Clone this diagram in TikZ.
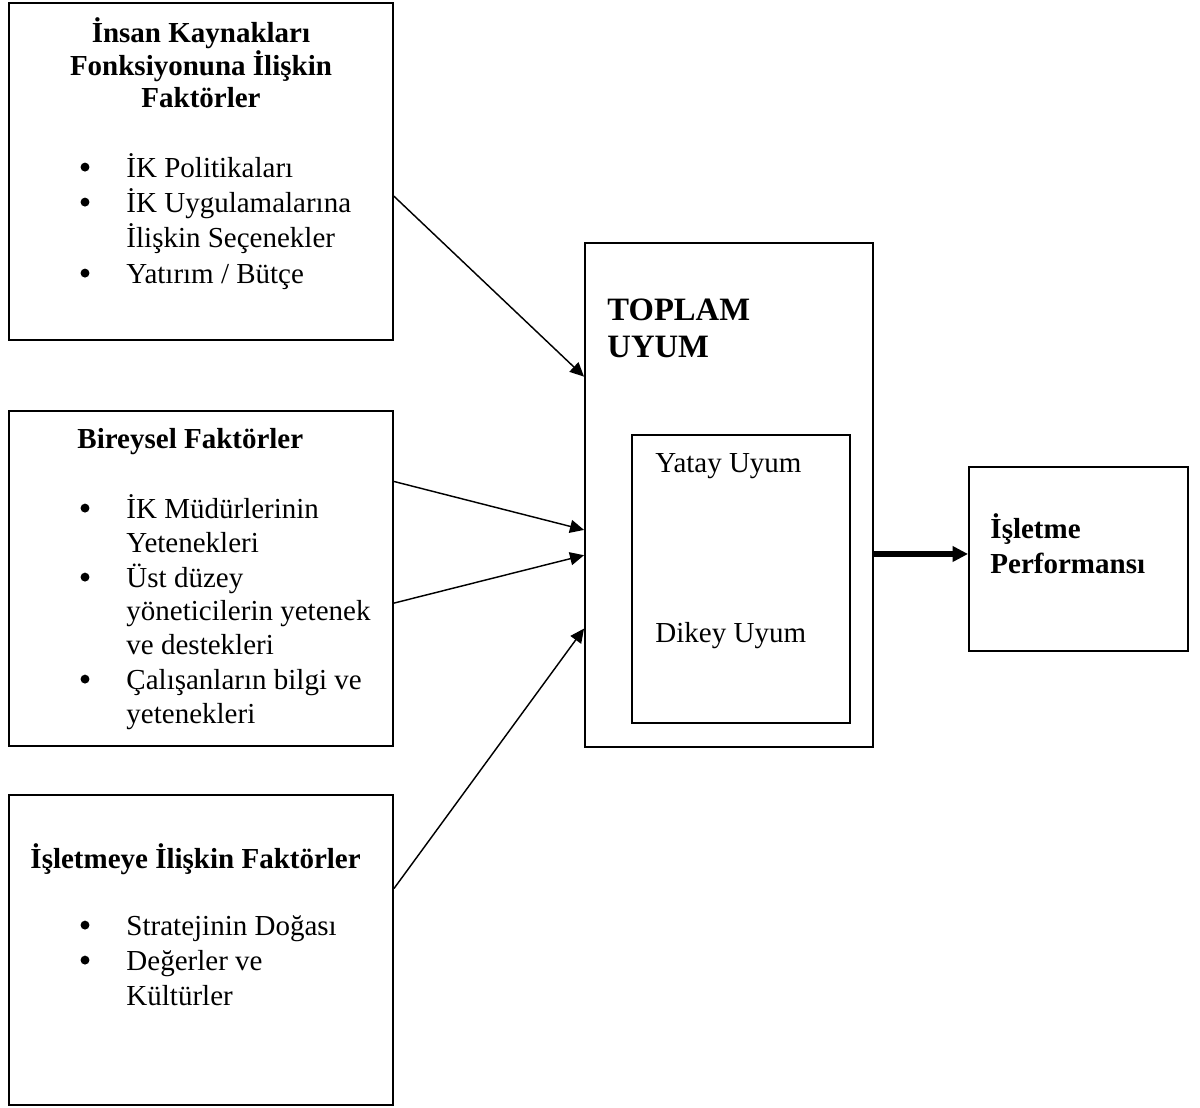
\documentclass[tikz,border=0pt]{standalone}
\usepackage{fontspec}
\setmainfont{Liberation Serif}
\usetikzlibrary{arrows.meta,calc,fit}

\tikzset{
  frame/.style={draw, line width=0.8pt, inner sep=0pt},
  txt/.style={anchor=base west, inner sep=0pt, font=\fontsize{12}{14}\selectfont},
  hdr/.style={txt, font=\fontsize{12}{14}\selectfont\bfseries},
  bighdr/.style={txt, font=\fontsize{13.5}{16}\selectfont\bfseries},
  dot/.style={circle, fill, inner sep=0pt, minimum size=3.7pt, yshift=4.1pt},
  link/.style={line width=0.6pt, -{Triangle[length=5.8pt,width=5.4pt]}},
  mainlink/.style={line width=2.4pt, -{Triangle[length=6.4pt,width=6.2pt]}},
}

\begin{document}
\begin{tikzpicture}[x=0.4138pt, y=-0.4138pt]
\useasboundingbox (0,0) rectangle (1200,1107);

% box corners
\coordinate (b1a) at (9,3);     \coordinate (b1b) at (393,340);
\coordinate (b2a) at (9,411);   \coordinate (b2b) at (393,746);
\coordinate (b3a) at (9,795);   \coordinate (b3b) at (393,1105);
\coordinate (ta)  at (585,243); \coordinate (tb)  at (873,747);
\coordinate (ia)  at (632,435); \coordinate (ib)  at (850,723);
\coordinate (ra)  at (969,467); \coordinate (rb)  at (1188,651);

\node[frame, fit=(b1a)(b1b)] (hr) {};
\node[frame, fit=(b2a)(b2b)] (ind) {};
\node[frame, fit=(b3a)(b3b)] (org) {};
\node[frame, fit=(ta)(tb)] (fit) {};
\node[frame, fit=(ia)(ib)] (inner) {};
\node[frame, fit=(ra)(rb)] (perf) {};

% human resources function factors
\node[hdr, anchor=base] (hrt1) at (201,42) {İnsan Kaynakları};
\node[hdr, anchor=base] (hrt2) at (201,75) {Fonksiyonuna İlişkin};
\node[hdr, anchor=base] (hrt3) at (201,107) {Faktörler};
\node[dot] (hrd1) at (85,177) {};
\node[txt] (hrl1) at (126,177) {İK Politikaları};
\node[dot] (hrd2) at (85,212) {};
\node[txt] (hrl2) at (126,212) {İK Uygulamalarına};
\node[txt] (hrl3) at (126,247) {İlişkin Seçenekler};
\node[dot] (hrd3) at (85,283) {};
\node[txt] (hrl4) at (126,283) {Yatırım / Bütçe};

% individual factors
\node[hdr] (indt) at (77,448) {Bireysel Faktörler};
\node[dot] (indd1) at (85,518) {};
\node[txt] (indl1) at (126,518) {İK Müdürlerinin};
\node[txt] (indl2) at (126,552) {Yetenekleri};
\node[dot] (indd2) at (85,587) {};
\node[txt] (indl3) at (126,587) {Üst düzey};
\node[txt] (indl4) at (126,620) {yöneticilerin yetenek};
\node[txt] (indl5) at (126,654) {ve destekleri};
\node[dot] (indd3) at (85,689) {};
\node[txt] (indl6) at (126,689) {Çalışanların bilgi ve};
\node[txt] (indl7) at (126,723) {yetenekleri};

% organisational factors
\node[hdr] (orgt) at (30,868) {İşletmeye İlişkin Faktörler};
\node[dot] (orgd1) at (85,935) {};
\node[txt] (orgl1) at (126,935) {Stratejinin Doğası};
\node[dot] (orgd2) at (85,970) {};
\node[txt] (orgl2) at (126,970) {Değerler ve};
\node[txt] (orgl3) at (126,1005) {Kültürler};

% total fit
\node[bighdr] (fitt1) at (607,320) {TOPLAM};
\node[bighdr] (fitt2) at (607,357) {UYUM};
\node[txt] (hor) at (655,472) {Yatay Uyum};
\node[txt] (ver) at (655,642) {Dikey Uyum};

% business performance
\node[hdr] (perft1) at (990,538) {İşletme};
\node[hdr] (perft2) at (990,573) {Performansı};

% connector ends
\coordinate (o1) at ($(hr.north east)!0.573!(hr.south east)$);
\coordinate (o2) at ($(ind.north east)!0.212!(ind.south east)$);
\coordinate (o3) at ($(ind.north east)!0.573!(ind.south east)$);
\coordinate (o4) at ($(org.north east)!0.303!(org.south east)$);
\coordinate (i1) at ($(fit.north west)!0.266!(fit.south west)$);
\coordinate (i2) at ($(fit.north west)!0.569!(fit.south west)$);
\coordinate (i3) at ($(fit.north west)!0.619!(fit.south west)$);
\coordinate (i4) at ($(fit.north west)!0.764!(fit.south west)$);
\coordinate (pin) at ($(perf.north west)!0.473!(perf.south west)$);

\draw[link] (o1) -- (i1);
\draw[link] (o2) -- (i2);
\draw[link] (o3) -- (i3);
\draw[link] (o4) -- (i4);
\draw[mainlink] (fit.east |- pin) -- (pin);
\end{tikzpicture}
\end{document}
